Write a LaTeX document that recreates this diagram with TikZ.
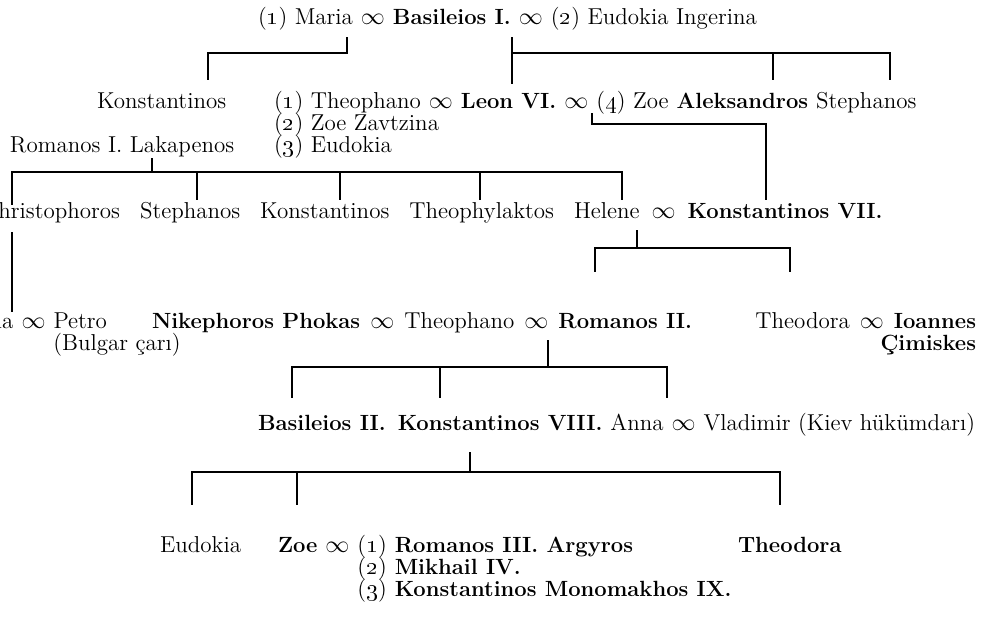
\documentclass[tikz,border=0pt]{standalone}
\usepackage{tikz}
\usetikzlibrary{positioning}
\tikzset{
  person/.style={inner sep=0pt, outer sep=0pt},
  ruler/.style={person, font=\fontsize{11}{11}\bfseries},
  stem/.style={line width=1pt},
}
\newcommand{\wed}{$\infty$}
\newcommand{\ord}[1]{(\oldstylenums{#1})}

\begin{document}
\fontsize{11.5}{11}\selectfont
\begin{tikzpicture}[x=0.5pt, y=-0.5pt, node distance=4pt]
\useasboundingbox (0,0) rectangle (988,616);

\node[person, anchor=base west] (maria) at (258,24) {\ord{1} Maria};
\node[person, base right=of maria] (w1) {\wed};
\node[ruler, base right=of w1] (basil) {Basileios I.};
\node[person, base right=of basil] (w2) {\wed};
\node[person, base right=of w2] (ingerina) {\ord{2} Eudokia Ingerina};

\node[person, anchor=base west] (konst) at (97,108) {Konstantinos};
\node[person, anchor=base west] (theoph) at (274,108) {\ord{1} Theophano};
\node[person, base right=of theoph] (w3) {\wed};
\node[ruler, base right=of w3] (leon) {Leon VI.};
\node[person, base right=of leon] (w4) {\wed};
\node[person, base right=of w4] (zoe) {\ord{4} Zoe};
\node[ruler, base right=of zoe] (alek) {Aleksandros};
\node[person, base right=of alek] (steph) {Stephanos};
\node[person, anchor=base west] (zautz) at (274,130) {\ord{2} Zoe Zavtzina};
\node[person, anchor=base west] (lekap) at (10,152) {Romanos I. Lakapenos};
\node[person, anchor=base west] (eudok) at (274,152) {\ord{3} Eudokia};

\node[person, anchor=base east] (khris) at (120,218) {Khristophoros};
\node[person, base right=10pt of khris] (steph2) {Stephanos};
\node[person, base right=10pt of steph2] (konst2) {Konstantinos};
\node[person, base right=10pt of konst2] (theophyl) {Theophylaktos};
\node[person, base right=10pt of theophyl] (helene) {Helene};
\node[person, base right=6pt of helene] (w5) {\wed};
\node[ruler, base right=6pt of w5] (konst7) {Konstantinos VII.};

\node[person, anchor=base east] (petro) at (107,328) {Petro};
\node[person, base left=of petro] (w6) {\wed};
\node[person, base left=of w6] (maria2) {Maria};
\node[person, anchor=base] (bulgar) at (117,350) {(Bulgar çarı)};
\node[ruler, anchor=base west] (nikeph) at (152,328) {Nikephoros Phokas};
\node[person, base right=5pt of nikeph] (w7) {\wed};
\node[person, base right=5pt of w7] (theoph2) {Theophano};
\node[person, base right=5pt of theoph2] (w8) {\wed};
\node[ruler, base right=5pt of w8] (romanos2) {Romanos II.};
\node[ruler, anchor=base east] (ioannes) at (976,328) {Ioannes};
\node[person, base left=5pt of ioannes] (w9) {\wed};
\node[person, base left=5pt of w9] (theodora) {Theodora};
\node[ruler, anchor=base east, yshift=-11pt] (cimis) at (ioannes.base east) {Çimiskes};

\node[ruler, anchor=base west] (basil2) at (258,430) {Basileios II.};
\node[ruler, base right=6pt of basil2] (konst8) {Konstantinos VIII.};
\node[person, base right=4pt of konst8] (anna) {Anna};
\node[person, base right=of anna] (w10) {\wed};
\node[person, base right=of w10] (vladimir) {Vladimir (Kiev hükümdarı)};

\node[person, anchor=base west] (eudok3) at (160,552) {Eudokia};
\node[ruler, anchor=base west] (zoe3) at (278,552) {Zoe};
\node[person, base right=of zoe3] (w11) {\wed};
\node[person, base right=of w11] (o1) {\ord{1}};
\node[ruler, base right=of o1] (romanos3) {Romanos III. Argyros};
\node[person, anchor=base west, yshift=-11pt] (o2) at (o1.base west) {\ord{2}};
\node[ruler, base right=of o2] (mikhail) {Mikhail IV.};
\node[person, anchor=base west, yshift=-11pt] (o3) at (o2.base west) {\ord{3}};
\node[ruler, base right=of o3] (monom) {Konstantinos Monomakhos IX.};
\node[ruler, anchor=base west] (theodora2) at (738,552) {Theodora};

\coordinate (tA) at (347,37);  \coordinate (mA) at (347,53);  \coordinate (dKon) at (208,80);
\coordinate (tB) at (512,37);  \coordinate (mB) at (512,53);  \coordinate (dLeon) at (512,84);
\coordinate (dAlek) at (773,80);  \coordinate (dSte) at (890,80);
\coordinate (tC) at (592,113); \coordinate (mC) at (592,124); \coordinate (dK7) at (766,200);
\coordinate (tD) at (152,158); \coordinate (mD) at (152,172); \coordinate (dKhr) at (12,205);
\coordinate (dSte2) at (197,200); \coordinate (dKon2) at (340,200);
\coordinate (dThe) at (480,200); \coordinate (dHel) at (622,200);
\coordinate (tE) at (12,232);  \coordinate (dMar) at (12,312);
\coordinate (tF) at (637,230); \coordinate (mF) at (637,248);
\coordinate (dRom2) at (595,272); \coordinate (dTheo) at (790,272);
\coordinate (tG) at (548,340); \coordinate (mG) at (548,367);
\coordinate (dBas2) at (292,398); \coordinate (dK8) at (440,398); \coordinate (dAnna) at (667,398);
\coordinate (tH) at (470,452); \coordinate (mH) at (470,472);
\coordinate (dEud) at (192,505); \coordinate (dZoe) at (297,505); \coordinate (dTheo2) at (780,505);

\draw[stem] (tA) -- (mA) -| (dKon);
\draw[stem] (tB) -- (dLeon);
\draw[stem] (mB) -| (dSte);
\draw[stem] (mB) -| (dAlek);
\draw[stem] (tC) -- (mC) -| (dK7);
\draw[stem] (tD) -- (mD) -| (dKhr);
\draw[stem] (mD) -| (dHel);
\draw[stem] (mD) -| (dSte2);
\draw[stem] (mD) -| (dKon2);
\draw[stem] (mD) -| (dThe);
\draw[stem] (tE) -- (dMar);
\draw[stem] (tF) -- (mF) -| (dRom2);
\draw[stem] (mF) -| (dTheo);
\draw[stem] (tG) -- (mG) -| (dBas2);
\draw[stem] (mG) -| (dAnna);
\draw[stem] (mG) -| (dK8);
\draw[stem] (tH) -- (mH) -| (dEud);
\draw[stem] (mH) -| (dTheo2);
\draw[stem] (mH) -| (dZoe);
\end{tikzpicture}
\end{document}
